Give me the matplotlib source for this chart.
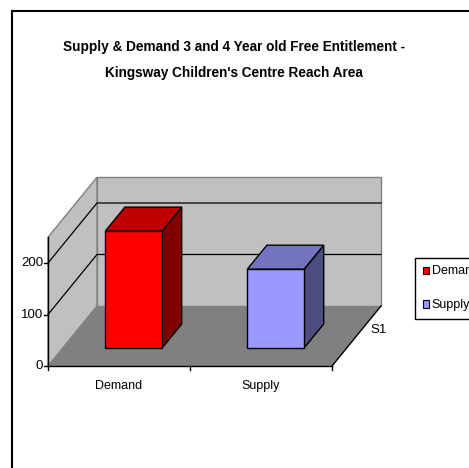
import matplotlib
matplotlib.use("Agg")
import matplotlib.pyplot as plt
from matplotlib.patches import Polygon, Patch
from matplotlib.lines import Line2D

plt.rcParams['font.family'] = ['Liberation Sans', 'DejaVu Sans']

# --- data ---
categories = ["Demand", "Supply"]
values = [227, 153]
bar_colors = {
    "Demand": ("#FF0000", "#BF0000", "#800000"),   # front, top, side
    "Supply": ("#9999FF", "#7373BF", "#4D4D80"),
}
y_ticks = [0, 100, 200]
y_max = 250
series_label = "S1"
title = "Supply & Demand 3 and 4 Year old Free Entitlement -\nKingsway Children's Centre Reach Area"

# --- oblique projection settings (data units) ---
DX = 49 / 142.0          # depth shift in category units
DY = 60 * 100 / 51.5     # depth shift in value units
BAR_W = 0.40
D0, D1 = 0.3, 0.7


def P(x, y, d=0.0):
    return (x + d * DX, y + d * DY)


fig = plt.figure(figsize=(4.69, 4.68), dpi=100)
ax = fig.add_axes([0, 0, 1, 1])
ax.set_xlim(-48 / 142.0, (469 - 48) / 142.0)
ax.set_ylim((366 - 468) * 100 / 51.5, 366 * 100 / 51.5)
ax.axis("off")

n = len(categories)

# floor
ax.add_patch(Polygon([P(0, 0, 0), P(n, 0, 0), P(n, 0, 1), P(0, 0, 1)],
                     closed=True, facecolor="#808080", edgecolor="none", zorder=1))
# back wall
ax.add_patch(Polygon([P(0, 0, 1), P(n, 0, 1), P(n, y_max, 1), P(0, y_max, 1)],
                     closed=True, facecolor="#C0C0C0", edgecolor="#808080", lw=1, zorder=1))
# left wall
ax.add_patch(Polygon([P(0, 0, 0), P(0, 0, 1), P(0, y_max, 1), P(0, y_max, 0)],
                     closed=True, facecolor="#C0C0C0", edgecolor="#808080", lw=1, zorder=1))

# gridlines
for t in y_ticks[1:]:
    pts = [P(0, t, 0), P(0, t, 1), P(n, t, 1)]
    ax.plot([p[0] for p in pts], [p[1] for p in pts], color="black", lw=0.9, zorder=2)

# bars
for i, (cat, v) in enumerate(zip(categories, values)):
    front, top, side = bar_colors[cat]
    x0 = i + 0.5 - BAR_W / 2
    x1 = x0 + BAR_W
    ax.add_patch(Polygon([P(x1, 0, D0), P(x1, 0, D1), P(x1, v, D1), P(x1, v, D0)],
                         closed=True, facecolor=side, edgecolor="black", lw=1, zorder=3))
    ax.add_patch(Polygon([P(x0, v, D0), P(x1, v, D0), P(x1, v, D1), P(x0, v, D1)],
                         closed=True, facecolor=top, edgecolor="black", lw=1, zorder=3))
    ax.add_patch(Polygon([P(x0, 0, D0), P(x1, 0, D0), P(x1, v, D0), P(x0, v, D0)],
                         closed=True, facecolor=front, edgecolor="black", lw=1, zorder=4))

# axes lines
tick_x = 4 / 142.0
tick_y = 4 * 100 / 51.5
ax.plot([0, 0], [0, y_max], color="black", lw=1, zorder=5)
for t in y_ticks:
    ax.plot([-tick_x, 0], [t, t], color="black", lw=1, zorder=5)
    ax.text(-tick_x - 0.005, t, str(t), ha="right", va="center", fontsize=9.5)
ax.plot([0, n], [0, 0], color="black", lw=1, zorder=5)
for i in range(n + 1):
    ax.plot([i, i], [0, -tick_y], color="black", lw=1, zorder=5)
for i, cat in enumerate(categories):
    ax.text(i + 0.5, -20 * 100 / 51.5, cat, ha="center", va="center", fontsize=9)
ax.plot([P(n, 0, 0)[0], P(n, 0, 1)[0]], [P(n, 0, 0)[1], P(n, 0, 1)[1]],
        color="black", lw=1, zorder=5)
sx, sy = P(n, 0, 0.6)
ax.text(sx + 0.12, sy, series_label, ha="center", va="center", fontsize=9.5)

# title
fig.text(234 / 469, 1 - 60 / 468, title, ha="center", va="center",
         fontsize=9.8, fontweight="bold", linespacing=2.0)

# legend
handles = [Patch(facecolor=bar_colors[c][0], edgecolor="black", lw=0.8) for c in categories]
fig.legend(handles, categories, loc="upper left",
           bbox_to_anchor=(415 / 469, 1 - 258 / 468), fontsize=9,
           frameon=True, fancybox=False, edgecolor="black", framealpha=1,
           handlelength=0.5, handleheight=0.5, handletextpad=0.25,
           labelspacing=1.75, borderpad=0.6, borderaxespad=0)

# outer frame
fig.add_artist(Line2D([12 / 469, 12 / 469], [0, 1 - 11 / 468], color="black", lw=1.5,
                      transform=fig.transFigure))
fig.add_artist(Line2D([12 / 469, 1], [1 - 11 / 468, 1 - 11 / 468], color="black", lw=1.5,
                      transform=fig.transFigure))

fig.savefig("out.png", dpi=100)
